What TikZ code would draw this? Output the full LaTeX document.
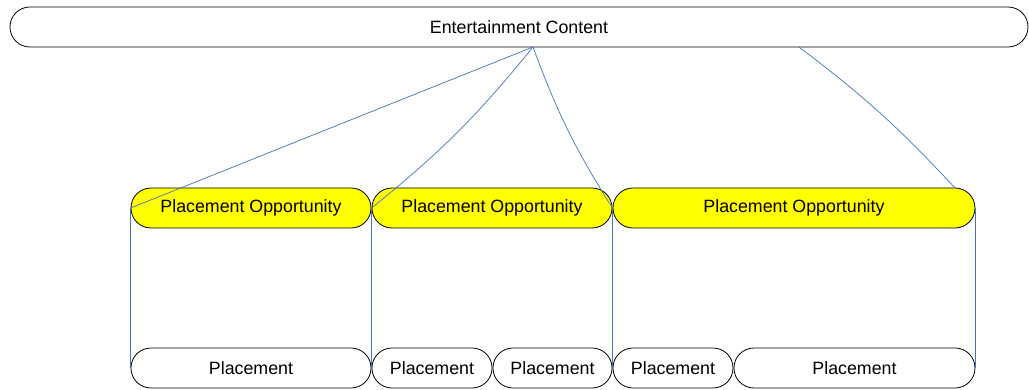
\documentclass[tikz,border=0pt]{standalone}
\usepackage{fontspec}
\setmainfont{Liberation Sans}
\begin{document}
\begin{tikzpicture}[x=1pt,y=-1pt,
  box/.style={draw=black, line width=0.8pt, rounded corners=19.9pt, inner sep=0pt,
    minimum height=40pt, font=\fontsize{17.8}{19}\selectfont},
  pobox/.style={box, fill={rgb,255:red,255;green,255;blue,0}},
  conn/.style={draw={rgb,255:red,68;green,114;blue,196}, line width=0.7pt}]
\useasboundingbox (0,0) rectangle (1029,390);
\node[box, minimum width=1018pt] (top) at (519,27) {Entertainment Content};
\node[pobox, minimum width=240pt] (po1) at (251,208) {Placement Opportunity};
\node[pobox, minimum width=240pt] (po2) at (492,208) {Placement Opportunity};
\node[pobox, minimum width=362pt] (po3) at (794,208) {Placement Opportunity};
\node[box, minimum width=240pt] (p1) at (251,368) {Placement};
\node[box, minimum width=120pt] (p2) at (432,368) {Placement};
\node[box, minimum width=119pt] (p3) at (552.5,368) {Placement};
\node[box, minimum width=120pt] (p4) at (673,368) {Placement};
\node[box, minimum width=241pt] (p5) at (854.5,368) {Placement};
\coordinate (hub) at (533,47);
\coordinate (hubb) at (799,47);
\coordinate (po3tr) at (955,188);
\draw[conn] (hub) -- (po1.west);
\draw[conn] (hub) to[bend left=6] (po2.west);
\draw[conn] (hub) to[bend right=6] (po2.east);
\draw[conn] (hubb) to[bend left=5] (po3tr);
\draw[conn] (po1.west) -- (p1.west);
\draw[conn] (po2.west) -- (p2.west);
\draw[conn] (po2.east) -- (p3.east);
\draw[conn] (po3.east) -- (p5.east);
\end{tikzpicture}
\end{document}
